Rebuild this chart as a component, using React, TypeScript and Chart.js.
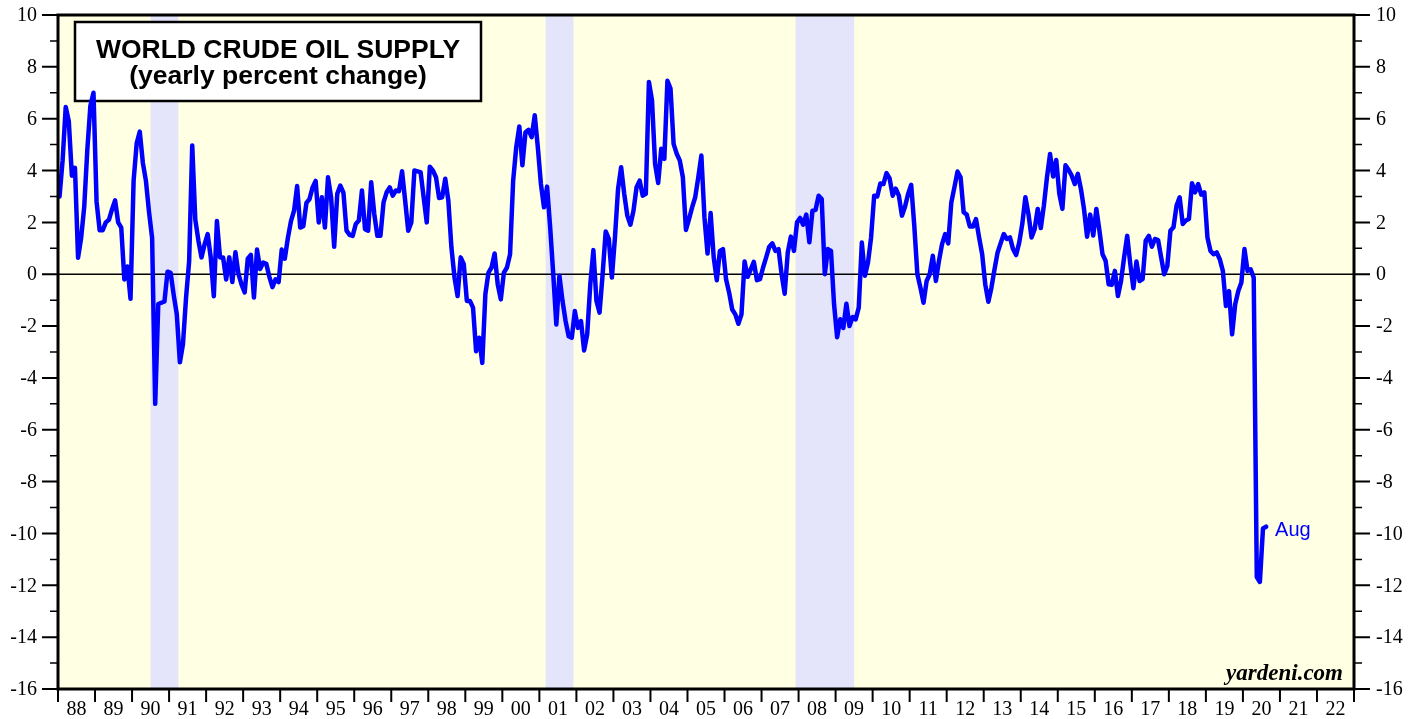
import React, { useEffect, useRef } from 'react';
import { Chart, registerables } from 'chart.js';

Chart.register(...registerables);

// ---------- data ----------
const startYear = 1988;
const axisEndYear = 2023;
const yearLabels = ['88', '89', '90', '91', '92', '93', '94', '95', '96', '97', '98', '99', '00', '01', '02', '03', '04', '05', '06', '07', '08', '09', '10', '11', '12', '13', '14', '15', '16', '17', '18', '19', '20', '21', '22'];
const yTicks = [10, 8, 6, 4, 2, 0, -2, -4, -6, -8, -10, -12, -14, -16];
const recessions: [number, number][] = [[1990.5, 1991.25], [2001.17, 2001.92], [2007.92, 2009.5]];

// monthly yearly-percent-change of world crude oil supply, Jan 1988 ...
const supply1988to1993 = [
  3.0, 4.4, 6.45, 5.9, 3.8, 4.1, 0.64, 1.4, 2.6, 4.8, 6.5, 7.0,
  2.8, 1.7, 1.7, 2.0, 2.1, 2.5, 2.85, 2.0, 1.8, -0.2, 0.3, -0.95,
  3.6, 5.05, 5.5, 4.3, 3.6, 2.4, 1.4, -5.0, -1.15, -1.1, -1.05, 0.1,
  0.05, -0.8, -1.55, -3.4, -2.7, -0.9, 0.5, 4.97, 2.1, 1.3, 0.65, 1.15,
  1.55, 0.65, -0.85, 2.05, 0.65, 0.65, -0.2, 0.65, -0.3, 0.85, 0.0, -0.4,
  -0.7, 0.6, 0.75, -0.9, 0.95, 0.2, 0.45, 0.4, -0.1, -0.5, -0.2, -0.3,
];
const supply1994to1999 = [
  0.95, 0.6, 1.4, 2.05, 2.45, 3.4, 1.8, 1.85, 2.75, 2.9, 3.35, 3.6,
  2.0, 2.97, 1.8, 3.74, 2.97, 1.06, 3.1, 3.42, 3.15, 1.68, 1.52, 1.48,
  1.94, 2.07, 3.23, 1.74, 1.68, 3.55, 2.32, 1.48, 1.48, 2.77, 3.16, 3.35,
  3.03, 3.23, 3.2, 3.97, 2.84, 1.68, 2.0, 4.0, 3.97, 3.94, 2.97, 2.0,
  4.15, 4.0, 3.74, 2.94, 2.97, 3.68, 2.84, 1.03, -0.13, -0.84, 0.65, 0.39,
  -1.03, -1.03, -1.29, -2.97, -2.45, -3.42, -0.77, 0.06, 0.26, 0.8, -0.39, -0.97,
];
const supply2000to2005 = [
  0.06, 0.26, 0.77, 3.6, 4.9, 5.7, 4.2, 5.48, 5.57, 5.29, 6.13, 4.9,
  3.48, 2.58, 3.38, 1.81, 0.0, -1.94, -0.06, -1.03, -1.81, -2.39, -2.45, -1.42,
  -2.07, -1.81, -2.94, -2.32, -0.39, 0.93, -1.03, -1.48, 0.0, 1.65, 1.36, -0.13,
  1.42, 3.29, 4.13, 3.1, 2.26, 1.91, 2.45, 3.36, 3.61, 3.03, 3.1, 7.42,
  6.71, 4.26, 3.52, 4.84, 4.45, 7.46, 7.16, 5.03, 4.65, 4.39, 3.74, 1.71,
  2.13, 2.58, 2.97, 3.74, 4.58, 2.19, 0.8, 2.36, 0.65, -0.23, 0.9, 0.97,
];
const supply2006to2011 = [
  -0.19, -0.71, -1.36, -1.55, -1.91, -1.55, 0.49, -0.1, 0.19, 0.48, -0.23, -0.19,
  0.26, 0.65, 1.06, 1.19, 0.9, 0.97, 0.0, -0.75, 0.84, 1.45, 0.9, 2.0,
  2.17, 1.91, 2.3, 1.23, 2.45, 2.48, 3.03, 2.9, 0.0, 0.97, 0.9, -1.16,
  -2.43, -1.74, -2.07, -1.14, -2.0, -1.65, -1.74, -1.29, 1.22, -0.06, 0.45, 1.42,
  3.03, 3.0, 3.5, 3.48, 3.9, 3.7, 3.03, 3.3, 3.03, 2.26, 2.6, 3.1,
  3.45, 1.87, 0.0, -0.52, -1.1, -0.26, 0.0, 0.71, -0.26, 0.52, 1.16, 1.55,
];
const supply2012to2017 = [
  1.19, 2.77, 3.35, 3.96, 3.74, 2.39, 2.3, 1.84, 1.84, 2.13, 1.42, 0.77,
  -0.39, -1.06, -0.52, 0.19, 0.84, 1.2, 1.55, 1.36, 1.42, 0.97, 0.74, 1.22,
  1.94, 2.97, 2.32, 1.42, 1.74, 2.52, 1.78, 2.65, 3.74, 4.64, 3.77, 4.41,
  3.1, 2.52, 4.2, 4.03, 3.81, 3.48, 3.87, 3.29, 2.52, 1.45, 2.3, 1.49,
  2.52, 1.68, 0.77, 0.52, -0.39, -0.41, 0.13, -0.84, -0.26, 0.65, 1.48, 0.39,
  -0.54, 0.49, -0.26, -0.19, 1.29, 1.48, 1.06, 1.36, 1.32, 0.65, 0.0, 0.32,
];
const supply2018to2020 = [
  1.68, 1.81, 2.65, 2.97, 1.94, 2.07, 2.13, 3.51, 3.16, 3.48, 3.07, 3.16,
  1.42, 0.9, 0.77, 0.84, 0.58, 0.13, -1.23, -0.65, -2.32, -1.16, -0.65, -0.32,
  0.97, 0.13, 0.19, -0.13, -11.68, -11.87, -9.81, -9.74,
];
const lastMonthLabel = 'Aug';

const supply = [
  ...supply1988to1993,
  ...supply1994to1999,
  ...supply2000to2005,
  ...supply2006to2011,
  ...supply2012to2017,
  ...supply2018to2020,
];

const SERIF = '"Liberation Serif", "Times New Roman", serif';
const SANS = '"Liberation Sans", Arial, sans-serif';

const decor = {
  id: 'decor',
  beforeDraw(chart: any) {
    const { ctx, chartArea: a, scales } = chart;
    const x = scales.x, y = scales.y;
    ctx.save();
    ctx.fillStyle = '#ffffff';
    ctx.fillRect(0, 0, chart.width, chart.height);
    ctx.fillStyle = '#FFFFE3';
    ctx.fillRect(a.left, a.top, a.right - a.left, a.bottom - a.top);
    ctx.fillStyle = '#E4E4FB';
    recessions.forEach(([s, e]) => {
      const x0 = x.getPixelForValue(s);
      const x1 = x.getPixelForValue(e);
      ctx.fillRect(x0, a.top, x1 - x0, a.bottom - a.top);
    });
    // zero line
    const y0 = y.getPixelForValue(0);
    ctx.strokeStyle = '#000';
    ctx.lineWidth = 1.5;
    ctx.beginPath();
    ctx.moveTo(a.left, y0);
    ctx.lineTo(a.right, y0);
    ctx.stroke();

    // title box (line is drawn over it)
    const bx = a.left + 17, by = a.top + 7, bw = 406, bh = 79;
    ctx.fillStyle = '#ffffff';
    ctx.fillRect(bx, by, bw, bh);
    ctx.strokeStyle = '#000';
    ctx.lineWidth = 2.5;
    ctx.strokeRect(bx, by, bw, bh);
    ctx.fillStyle = '#000';
    ctx.font = `bold 26.5px ${SANS}`;
    ctx.textAlign = 'center';
    ctx.textBaseline = 'alphabetic';
    ctx.fillText('WORLD CRUDE OIL SUPPLY', bx + bw / 2, by + 35.5);
    ctx.fillText('(yearly percent change)', bx + bw / 2, by + 61.5);
    ctx.restore();
  },
  afterDraw(chart: any) {
    const { ctx, chartArea: a, scales } = chart;
    const x = scales.x, y = scales.y;
    ctx.save();
    ctx.strokeStyle = '#000';
    ctx.fillStyle = '#000';

    // frame
    ctx.lineWidth = 3;
    ctx.strokeRect(a.left, a.top, a.right - a.left, a.bottom - a.top);

    // y ticks (both sides)
    for (let v = -16; v <= 10; v++) {
      const py = y.getPixelForValue(v);
      const major = v % 2 === 0;
      const len = major ? 16 : 8;
      ctx.lineWidth = major ? 2 : 1.5;
      ctx.beginPath();
      ctx.moveTo(a.left - len, py);
      ctx.lineTo(a.left, py);
      ctx.moveTo(a.right, py);
      ctx.lineTo(a.right + len, py);
      ctx.stroke();
    }
    ctx.font = `20px ${SERIF}`;
    ctx.textBaseline = 'middle';
    yTicks.forEach((v) => {
      const py = y.getPixelForValue(v) + 1;
      ctx.textAlign = 'right';
      ctx.fillText(String(v), a.left - 21, py);
      ctx.textAlign = 'left';
      ctx.fillText(String(v), a.right + 22, py);
    });

    // x ticks at year boundaries, labels in the middle of each year
    ctx.lineWidth = 2;
    for (let yr = startYear; yr <= axisEndYear; yr++) {
      const px = x.getPixelForValue(yr);
      ctx.beginPath();
      ctx.moveTo(px, a.bottom);
      ctx.lineTo(px, a.bottom + 13);
      ctx.stroke();
    }
    ctx.textAlign = 'center';
    ctx.textBaseline = 'alphabetic';
    yearLabels.forEach((lab, i) => {
      const px = x.getPixelForValue(startYear + i + 0.5);
      ctx.fillText(lab, px, a.bottom + 26);
    });

    // source
    ctx.font = `italic bold 23px ${SERIF}`;
    ctx.textAlign = 'right';
    ctx.fillText('yardeni.com', a.right - 11, a.bottom - 9);

    // last-month label
    const n = supply.length - 1;
    const lx = x.getPixelForValue(startYear + (n + 0.5) / 12);
    const ly = y.getPixelForValue(supply[n]);
    ctx.fillStyle = '#0000FF';
    ctx.font = `20px ${SANS}`;
    ctx.textAlign = 'left';
    ctx.fillText(lastMonthLabel, lx + 9, ly + 9);
    ctx.restore();
  },
};

export default function App() {
  const ref = useRef<HTMLCanvasElement | null>(null);
  useEffect(() => {
    if (!ref.current) return;
    const points = supply.map((v, i) => ({ x: startYear + (i + 0.5) / 12, y: v }));
    const chart = new Chart(ref.current, {
      type: 'line',
      data: {
        datasets: [
          {
            data: points,
            borderColor: '#0000FF',
            borderWidth: 4.5,
            pointRadius: 0,
            tension: 0,
            borderJoinStyle: 'round',
            borderCapStyle: 'round',
            fill: false,
          },
        ],
      },
      options: {
        animation: false,
        responsive: false,
        maintainAspectRatio: false,
        devicePixelRatio: 1,
        events: [],
        layout: { padding: { left: 58, right: 67, top: 15, bottom: 30 } },
        plugins: { legend: { display: false }, tooltip: { enabled: false }, title: { display: false } },
        scales: {
          x: { type: 'linear', min: startYear, max: axisEndYear, display: false },
          y: { type: 'linear', min: -16, max: 10, display: false },
        },
      },
      plugins: [decor],
    } as any);
    return () => chart.destroy();
  }, []);
  return (
    <div style={{ position: 'fixed', left: 0, top: 0, width: 1421, height: 719, background: '#fff' }}>
      <canvas ref={ref} width={1421} height={719} style={{ display: 'block', width: 1421, height: 719 }} />
    </div>
  );
}
